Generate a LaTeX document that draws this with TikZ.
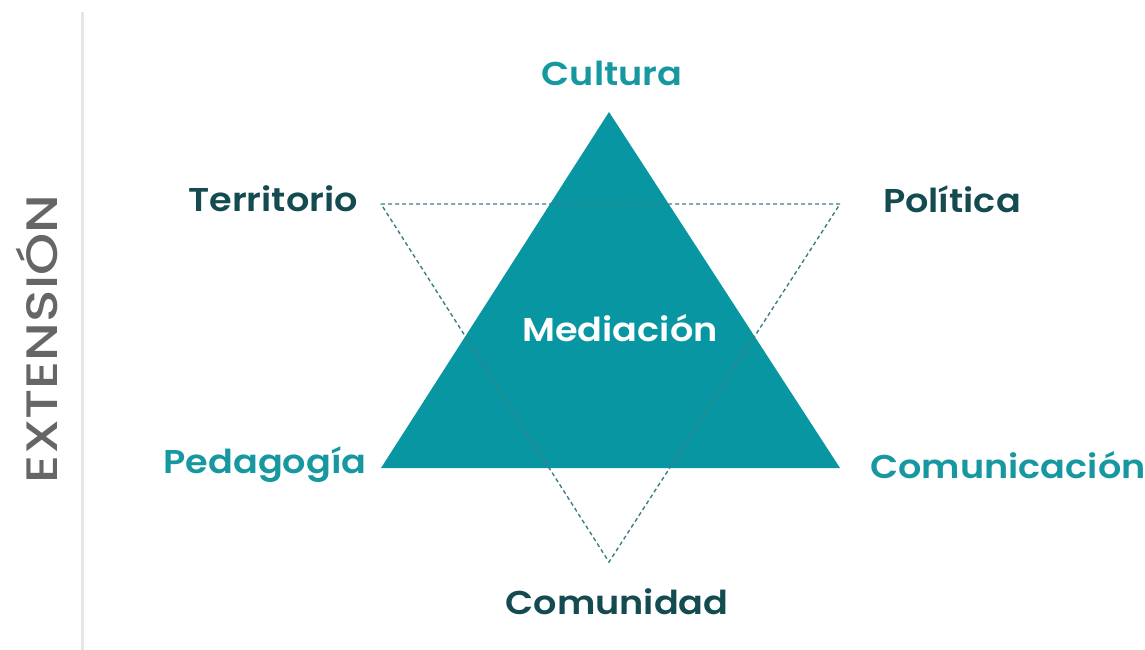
\documentclass[tikz,border=0pt]{standalone}
\usepackage{fontspec}
\setmainfont{Poppins}[BoldFont={* SemiBold}, FakeStretch=1.11]
\newfontfamily\extfont{Poppins}[BoldFont={* Medium}, FakeStretch=1.22]
\definecolor{tealfill}{HTML}{0996A3}
\definecolor{tealtext}{HTML}{1798A1}
\definecolor{darktext}{HTML}{134B50}
\definecolor{dashcol}{HTML}{3C7E84}
\definecolor{graytext}{HTML}{666666}
\definecolor{linegray}{HTML}{E6E6E6}
\begin{document}
\begin{tikzpicture}[x=1pt,y=-1pt,
  lbl/.style={font=\fontsize{33}{38}\selectfont\bfseries, inner sep=0pt},
  tl/.style={lbl, text=tealtext},
  dl/.style={lbl, text=darktext}]
\useasboundingbox (0,0) rectangle (1145,650);
\coordinate (A) at (609,112);
\coordinate (B) at (381,468);
\coordinate (C) at (840,468);
\coordinate (D) at (381,204);
\coordinate (E) at (840,204);
\coordinate (F) at (609,562);
\fill[tealfill] (A) -- (B) -- (C) -- cycle;
\draw[dashcol, line width=1.4pt, dash pattern=on 4pt off 3pt] (D) -- (E) -- (F) -- cycle;
\coordinate (L1) at (82,12);
\coordinate (L2) at (82,650);
\draw[linegray, line width=3pt] (L1) -- (L2);
\node[font=\extfont\fontsize{44}{50}\selectfont\bfseries, text=graytext, rotate=90, inner sep=0pt] (ext) at (37,339) {EXTENSIÓN};
\node[tl] (cultura) at (612,73) {Cultura};
\node[dl] (territorio) at (273,199) {Territorio};
\node[dl] (politica) at (952,199) {Política};
\node[lbl, text=white] (mediacion) at (620,328) {Mediación};
\node[tl] (pedagogia) at (265,465) {Pedagogía};
\node[tl] (comunicacion) at (1008,465) {Comunicación};
\node[dl] (comunidad) at (617,602) {Comunidad};
\end{tikzpicture}
\end{document}
